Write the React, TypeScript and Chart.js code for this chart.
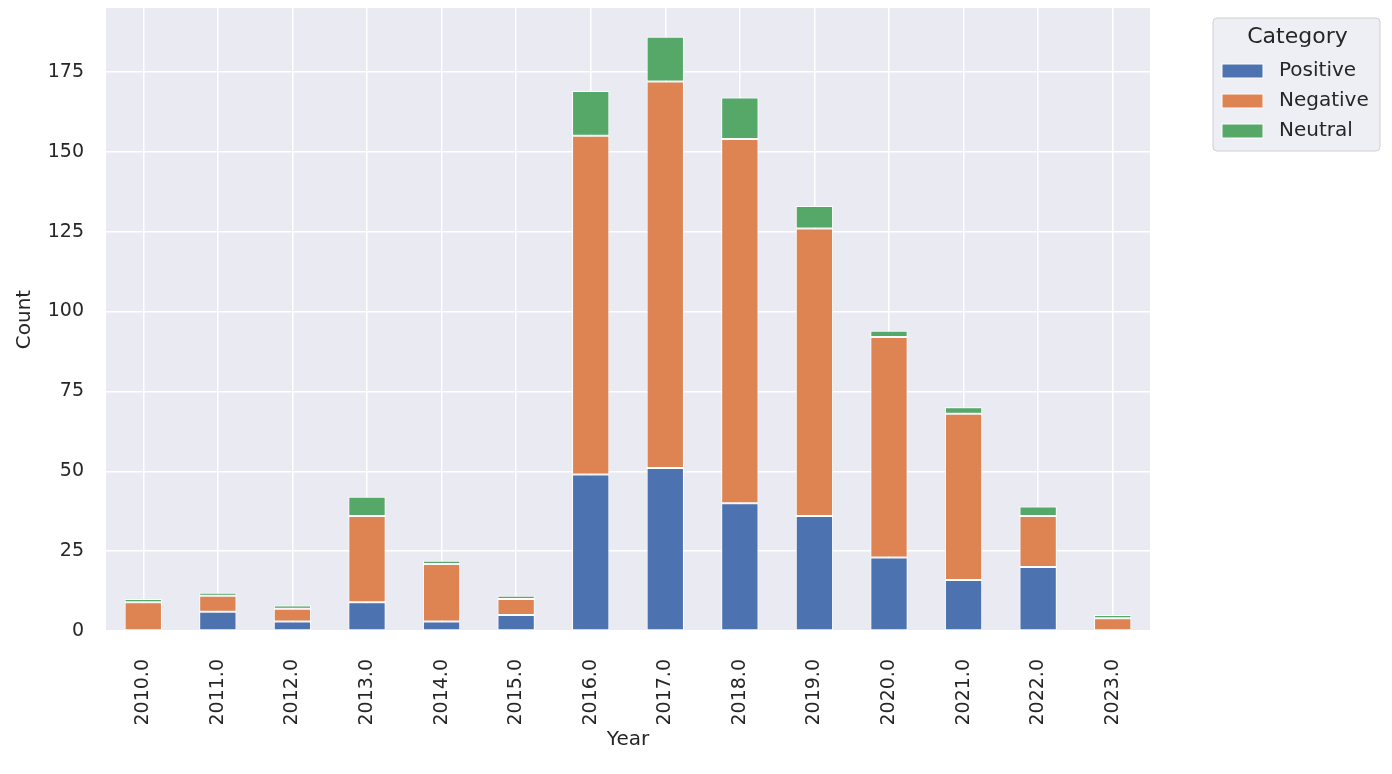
import React, { useEffect, useRef } from "react";
import { Chart, registerables } from "chart.js";

Chart.register(...registerables);

const years = ["2010.0", "2011.0", "2012.0", "2013.0", "2014.0", "2015.0", "2016.0", "2017.0", "2018.0", "2019.0", "2020.0", "2021.0", "2022.0", "2023.0"];
const positive = [0, 6, 3, 9, 3, 5, 49, 51, 40, 36, 23, 16, 20, 0];
const negative = [9, 5, 4, 27, 18, 5, 106, 121, 114, 90, 69, 52, 16, 4];
const neutral = [1, 1, 1, 6, 1, 1, 14, 14, 13, 7, 2, 2, 3, 1];
const seriesNames = ["Positive", "Negative", "Neutral"];
const seriesColors = ["#4C72B0", "#DD8452", "#55A868"];
const yTicks = [0, 25, 50, 75, 100, 125, 150, 175];

const FONT = "'DejaVu Sans', sans-serif";
const TEXT = "#262626";

const bgPlugin = {
  id: "bgPlugin",
  beforeDraw(chart: any) {
    const { ctx, chartArea } = chart;
    ctx.save();
    ctx.fillStyle = "#EAEAF2";
    ctx.fillRect(chartArea.left, chartArea.top, chartArea.right - chartArea.left, chartArea.bottom - chartArea.top);
    ctx.restore();
  },
};

const legendPlugin = {
  id: "boxLegend",
  afterDraw(chart: any) {
    const { ctx } = chart;
    const x = 1213, y = 18, w = 167, h = 133, r = 4;
    ctx.save();
    ctx.beginPath();
    ctx.moveTo(x + r, y);
    ctx.arcTo(x + w, y, x + w, y + h, r);
    ctx.arcTo(x + w, y + h, x, y + h, r);
    ctx.arcTo(x, y + h, x, y, r);
    ctx.arcTo(x, y, x + w, y, r);
    ctx.closePath();
    ctx.fillStyle = "rgba(234,234,242,0.8)";
    ctx.fill();
    ctx.strokeStyle = "#D0D0D0";
    ctx.lineWidth = 1;
    ctx.stroke();
    ctx.fillStyle = TEXT;
    ctx.font = `22px ${FONT}`;
    ctx.textAlign = "center";
    ctx.textBaseline = "middle";
    ctx.fillText("Category", x + w / 2 + 1, 37);
    chart.data.datasets.forEach((ds: any, i: number) => {
      const cy = 71 + i * 30;
      ctx.fillStyle = ds.backgroundColor;
      ctx.fillRect(1222, cy - 7, 41, 14);
      ctx.strokeStyle = "#ffffff";
      ctx.strokeRect(1222, cy - 7, 41, 14);
      ctx.fillStyle = TEXT;
      ctx.font = `20px ${FONT}`;
      ctx.textAlign = "left";
      ctx.fillText(ds.label, 1279, cy);
    });
    ctx.restore();
  },
};

export default function App() {
  const ref = useRef<HTMLCanvasElement | null>(null);
  useEffect(() => {
    if (!ref.current) return;
    const data = [positive, negative, neutral];
    const chart = new Chart(ref.current, {
      type: "bar",
      data: {
        labels: years,
        datasets: seriesNames.map((name, i) => ({
          label: name,
          data: data[i],
          backgroundColor: seriesColors[i],
          borderColor: "#ffffff",
          borderWidth: 1,
          borderSkipped: false,
          barPercentage: 0.5,
          categoryPercentage: 1,
        })),
      },
      options: {
        animation: false,
        responsive: true,
        maintainAspectRatio: false,
        layout: { padding: { left: 0, right: 242, top: 8, bottom: 0 } },
        plugins: { legend: { display: false }, tooltip: { enabled: false } },
        scales: {
          x: {
            stacked: true,
            offset: true,
            grid: { color: "#ffffff", lineWidth: 1.5, offset: false, drawTicks: false },
            border: { display: false },
            ticks: { color: TEXT, font: { family: FONT, size: 19 }, minRotation: 90, maxRotation: 90, padding: 28 },
            title: { display: true, text: "Year", color: TEXT, font: { family: FONT, size: 20 }, padding: { top: 0, bottom: 22 } },
            afterFit(scale: any) {
              scale.height = 143;
              scale.paddingLeft = 0;
              scale.paddingRight = 0;
            },
          },
          y: {
            stacked: true,
            min: 0,
            max: 195,
            grid: { color: "#ffffff", lineWidth: 1.5, drawTicks: false },
            border: { display: false },
            afterBuildTicks(scale: any) { scale.ticks = yTicks.map((v) => ({ value: v })); },
            ticks: { color: TEXT, font: { family: FONT, size: 19 }, padding: 22 },
            title: { display: true, text: "Count", color: TEXT, font: { family: FONT, size: 20 }, padding: { top: 13, bottom: 0 } },
            afterFit(scale: any) {
              scale.width = 106;
              scale.paddingTop = 0;
              scale.paddingBottom = 0;
            },
          },
        },
      },
      plugins: [bgPlugin, legendPlugin],
    });
    return () => chart.destroy();
  }, []);
  return (
    <div style={{ position: "fixed", left: 0, top: 0, width: 1392, height: 774, background: "#ffffff" }}>
      <canvas ref={ref} />
    </div>
  );
}
